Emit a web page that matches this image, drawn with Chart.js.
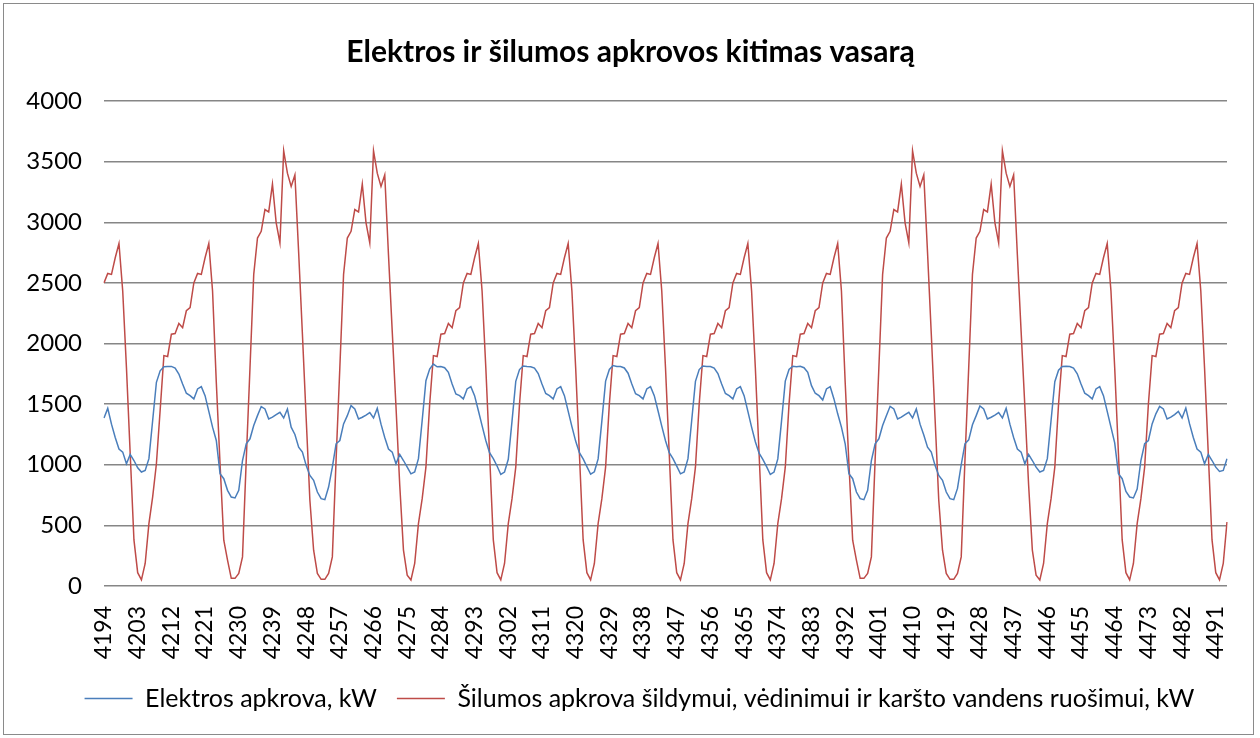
<!DOCTYPE html>
<html lang="lt">
<head>
    <meta charset="utf-8">
    <title>Elektros ir šilumos apkrovos kitimas vasarą</title>
    <style>
        body{margin:0;background:#fff;}
        #wrap{width:1260px;height:738px;}
    </style>
    <script src="https://cdn.jsdelivr.net/npm/chart.js@4/dist/chart.umd.min.js"></script>
</head>
<body>
<div id="wrap"><canvas id="apkrova" width="1260" height="738"></canvas></div>
<script>
// hours 4194 ... 4494
const valandos = [];
for (let h = 4194; h <= 4494; h++) valandos.push(String(h));

const elektra = [
    1386,1465,1335,1225,1130,1104,1008,1085,1035,975,
    940,953,1050,1365,1680,1775,1808,1811,1811,1797,1748,1666,1590,1570,1543,1625,1644,1570,1440,1310,1200,926,885,789,
    734,726,789,1035,1173,1214,1323,1405,1480,1460,1378,1392,1414,1433,1386,1460,1310,1250,1145,1104,995,912,871,775,
    720,712,816,980,1173,1200,1337,1405,1488,1460,1378,1392,1410,1430,1386,1465,1335,1225,1130,1104,1008,1085,1035,980,
    925,940,1050,1365,1693,1789,1830,1808,1810,1800,1762,1666,1584,1570,1543,1625,1644,1570,1447,1323,1200,1100,1050,990,
    920,940,1045,1360,1688,1785,1815,1811,1808,1797,1752,1666,1588,1570,1543,1625,1644,1570,1442,1315,1195,1100,1048,985,
    922,942,1048,1362,1690,1786,1818,1810,1810,1798,1755,1666,1586,1570,1543,1625,1644,1570,1445,1318,1198,1100,1050,988,
    925,940,1050,1365,1688,1785,1815,1810,1810,1797,1752,1666,1588,1570,1543,1625,1644,1570,1440,1310,1190,1095,1045,985,
    920,940,1048,1362,1690,1786,1812,1808,1812,1800,1762,1652,1590,1570,1534,1625,1644,1543,1420,1310,1173,926,885,775,
    720,712,789,1035,1173,1214,1323,1405,1482,1460,1378,1392,1414,1433,1386,1460,1335,1245,1145,1104,995,912,871,775,
    720,712,805,1000,1173,1205,1330,1405,1485,1460,1378,1392,1410,1430,1386,1465,1335,1225,1130,1104,1008,1085,1035,980,
    940,953,1050,1365,1685,1780,1810,1812,1810,1797,1750,1666,1590,1570,1543,1625,1644,1570,1440,1310,1180,926,885,780,
    734,726,800,1035,1173,1200,1337,1420,1482,1460,1378,1392,1414,1440,1386,1468,1337,1225,1130,1104,1008,1085,1035,980,
    945,953,1050
];

const siluma = [
    2500,2578,2570,2707,2825,2433,1800,1090,380,110,
    50,186,515,735,1008,1450,1900,1893,2077,2082,2165,2130,2270,2296,2500,2578,2570,2707,2825,2433,1680,1008,378,214,
    63,63,104,240,1040,1800,2570,2870,2925,3105,3085,3315,2995,2830,3590,3405,3296,3390,2750,2080,1390,707,295,104,
    55,55,104,240,1040,1800,2570,2870,2925,3105,3085,3315,2995,2830,3590,3405,3296,3390,2730,2100,1480,835,296,90,
    50,186,515,720,980,1500,1900,1893,2077,2082,2165,2130,2270,2296,2500,2578,2570,2707,2825,2433,1800,1090,380,110,
    50,186,515,720,980,1500,1900,1893,2077,2082,2165,2130,2270,2296,2500,2578,2570,2707,2825,2433,1800,1090,380,110,
    50,186,515,720,980,1500,1900,1893,2077,2082,2165,2130,2270,2296,2500,2578,2570,2707,2825,2433,1800,1090,380,110,
    50,186,515,720,980,1500,1900,1893,2077,2082,2165,2130,2270,2296,2500,2578,2570,2707,2825,2433,1800,1090,380,110,
    50,186,515,720,980,1500,1900,1893,2077,2082,2165,2130,2270,2296,2500,2578,2570,2707,2825,2433,1680,1008,378,214,
    63,63,104,240,1040,1800,2570,2870,2925,3105,3085,3315,2995,2830,3590,3405,3296,3390,2750,2080,1390,707,295,104,
    55,55,104,240,1040,1800,2570,2870,2925,3105,3085,3315,2995,2830,3590,3405,3296,3390,2730,2100,1480,835,296,90,
    50,186,515,720,980,1500,1900,1893,2077,2082,2165,2130,2270,2296,2500,2578,2570,2707,2825,2433,1800,1090,380,110,
    50,186,515,720,980,1500,1900,1893,2077,2082,2165,2130,2270,2296,2500,2578,2570,2707,2825,2433,1800,1090,380,110,
    50,186,528
];

const yMin = 0, yMax = 4000, yStep = 500;
const labelEvery = 9;

const FONT = 'Lato, "Open Sans", sans-serif';

// frame + white background, and nudge title / legend to where Excel puts them
const frame = {
    id: 'frame',
    beforeDraw(chart) {
        const c = chart.ctx;
        c.save();
        c.fillStyle = '#fff';
        c.fillRect(0, 0, chart.width, chart.height);
        c.strokeStyle = '#8a8a8a';
        c.lineWidth = 1;
        c.strokeRect(3.5, 3.5, 1250, 731);
        c.restore();
    },
    afterLayout(chart) {
        const t = chart.titleBlock, l = chart.legend;
        if (t) { t.left += 17; t.right += 17; }
        if (l) { l.left += 26; l.right += 26; }
    }
};

new Chart(document.getElementById('apkrova').getContext('2d'), {
    type: 'line',
    data: {
        labels: valandos,
        datasets: [
            {
                label: 'Elektros apkrova, kW',
                data: elektra,
                borderColor: '#4a7ebb',
                borderWidth: 1.5,
                pointRadius: 0,
                tension: 0
            },
            {
                label: 'Šilumos apkrova šildymui, vėdinimui ir karšto vandens ruošimui, kW',
                data: siluma,
                borderColor: '#be4b48',
                borderWidth: 1.5,
                pointRadius: 0,
                tension: 0
            }
        ]
    },
    options: {
        responsive: false,
        animation: false,
        layout: {padding: {left: 0, right: 33, top: 0, bottom: 17}},
        plugins: {
            title: {
                display: true,
                text: 'Elektros ir šilumos apkrovos kitimas vasarą',
                color: '#000',
                font: {family: FONT, size: 30, weight: 'bold'},
                padding: {top: 34, bottom: 31}
            },
            legend: {
                position: 'bottom',
                labels: {
                    usePointStyle: true,
                    pointStyle: 'line',
                    pointStyleWidth: 48,
                    color: '#000',
                    font: {family: FONT, size: 25},
                    padding: 20
                }
            },
            tooltip: {enabled: false}
        },
        scales: {
            x: {
                offset: false,
                grid: {display: false},
                border: {display: false},
                ticks: {
                    autoSkip: false,
                    minRotation: 90,
                    maxRotation: 90,
                    padding: 12,
                    color: '#000',
                    font: {family: FONT, size: 23},
                    callback: function(v, i) {
                        return i % labelEvery === 0 ? valandos[i] : null;
                    }
                },
                afterFit: function(s) { s.height = 80; }
            },
            y: {
                min: yMin,
                max: yMax,
                grid: {color: '#868686', lineWidth: 1.5, drawTicks: false},
                border: {display: false},
                ticks: {
                    stepSize: yStep,
                    padding: 22,
                    color: '#000',
                    font: {family: FONT, size: 24},
                    callback: function(v) { return String(v); }
                },
                afterFit: function(s) { s.width = 104; }
            }
        }
    },
    plugins: [frame]
});
</script>
</body>
</html>
